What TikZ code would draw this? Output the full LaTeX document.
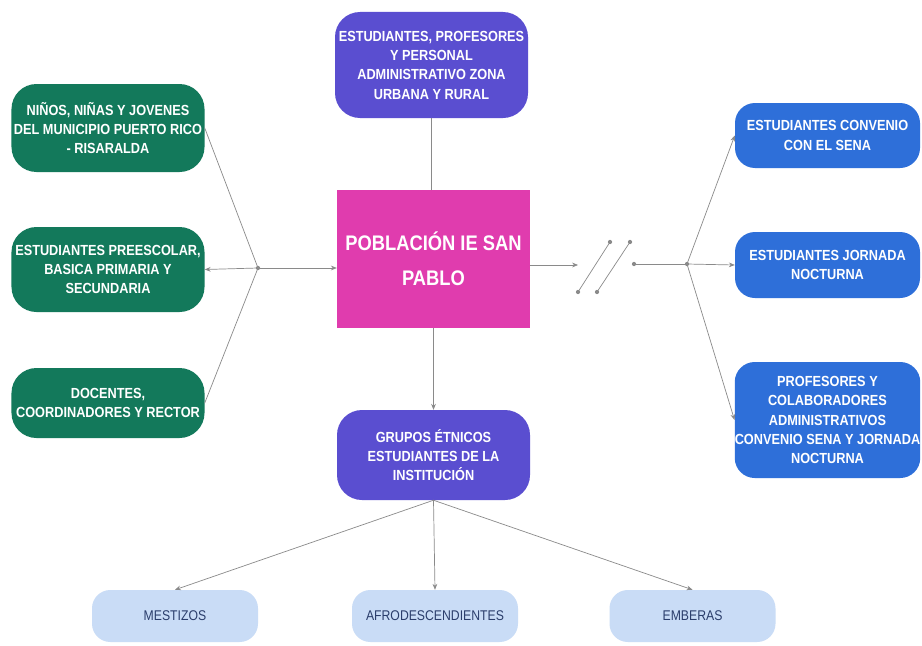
\documentclass[tikz,border=0pt]{standalone}
\usepackage{fontspec}
\setmainfont{Liberation Sans}
\newfontfamily\narrowfont[FakeStretch=0.87]{Liberation Sans}
\usetikzlibrary{arrows.meta}
\definecolor{verde}{HTML}{13795B}
\definecolor{morado}{HTML}{5A4ED0}
\definecolor{rosa}{HTML}{E03CAE}
\definecolor{azul}{HTML}{2E6FD9}
\definecolor{celeste}{HTML}{C9DCF6}
\definecolor{tinta}{HTML}{2A3D6B}
\definecolor{linea}{HTML}{8A8A8A}
\begin{document}
\begin{tikzpicture}[x=0.3mm, y=-0.3mm, line join=round, line cap=round, >={Stealth[length=5pt,width=4pt]},
		caja/.style={rounded corners=7.5mm, text=white, align=center, inner sep=0pt, font=\narrowfont\bfseries\fontsize{12.5}{16.5}\selectfont},
		verdebox/.style={caja, fill=verde, minimum width=57.9mm},
		moradobox/.style={caja, fill=morado, minimum width=57.9mm},
		azulbox/.style={caja, fill=azul, rounded corners=6mm, minimum width=55.5mm},
		grupobox/.style={caja, fill=celeste, text=tinta, rounded corners=5.5mm, minimum width=49.8mm, minimum height=15.6mm, font=\narrowfont\fontsize{12}{14}\selectfont},
		conector/.style={draw=linea, line width=0.6pt}]
	\path[use as bounding box, fill=white] (0,0) rectangle (922,646);
	\node[moradobox, minimum height=31.8mm] (sup) at (431.5,65) {ESTUDIANTES, PROFESORES\\Y PERSONAL\\ADMINISTRATIVO ZONA\\URBANA Y RURAL};
	\node[caja, fill=rosa, rounded corners=0pt, minimum width=57.9mm, minimum height=41.4mm, font=\narrowfont\bfseries\fontsize{18}{30}\selectfont] (pob) at (433.5,259) {POBLACIÓN IE SAN\\PABLO};
	\node[moradobox, minimum height=27mm] (etn) at (433.5,455) {GRUPOS ÉTNICOS\\ESTUDIANTES DE LA\\INSTITUCIÓN};
	\node[verdebox, minimum height=26.4mm] (g1) at (108,128) {NIÑOS, NIÑAS Y JOVENES\\DEL MUNICIPIO PUERTO RICO\\- RISARALDA};
	\node[verdebox, minimum height=25.5mm] (g2) at (108,269.5) {ESTUDIANTES PREESCOLAR,\\BASICA PRIMARIA Y\\SECUNDARIA};
	\node[verdebox, minimum height=21mm] (g3) at (108,403) {DOCENTES,\\COORDINADORES Y RECTOR};
	\node[azulbox, minimum height=19.5mm] (b1) at (827.5,135.5) {ESTUDIANTES CONVENIO\\CON EL SENA};
	\node[azulbox, minimum height=19.8mm] (b2) at (827.5,265) {ESTUDIANTES JORNADA\\NOCTURNA};
	\node[azulbox, minimum height=34.8mm] (b3) at (827.5,420) {PROFESORES Y\\COLABORADORES\\ADMINISTRATIVOS\\CONVENIO SENA Y JORNADA\\NOCTURNA};
	\foreach \n/\x/\t in {m1/175/MESTIZOS, m2/435/AFRODESCENDIENTES, m3/692.5/EMBERAS}
		\node[grupobox] (\n) at (\x,616) {\t};
	\coordinate (jL) at (258,268);
	\coordinate (cR) at (578,265);
	\coordinate (pR) at (634,264);
	\coordinate (jR) at (687,264);
	\draw[conector] (sup.south) -- (sup.south |- pob.north);
	\draw[conector,->] (pob.south) -- (etn.north);
	\foreach \n in {m1,m2,m3}
		\draw[conector,->] (etn.south) -- (\n.north);
	\draw[conector] (g1.east) -- (jL) (g3.east) -- (jL);
	\draw[conector,->] (jL) -- (g2.east);
	\draw[conector,->] (jL) -- (jL -| pob.west);
	\fill[linea] (jL) circle(1.8pt);
	\draw[conector,->] (pob.east |- cR) -- (cR);
	\foreach \a/\b in {578/610, 597/630} {
		\draw[conector] (\a,292) -- (\b,242);
		\fill[linea] (\a,292) circle(1.8pt) (\b,242) circle(1.8pt);}
	\draw[conector] (pR) -- (jR);
	\fill[linea] (pR) circle(1.8pt) (jR) circle(1.8pt);
	\foreach \n in {b1,b2,b3}
		\draw[conector,->] (jR) -- (\n.west);
\end{tikzpicture}
\end{document}
